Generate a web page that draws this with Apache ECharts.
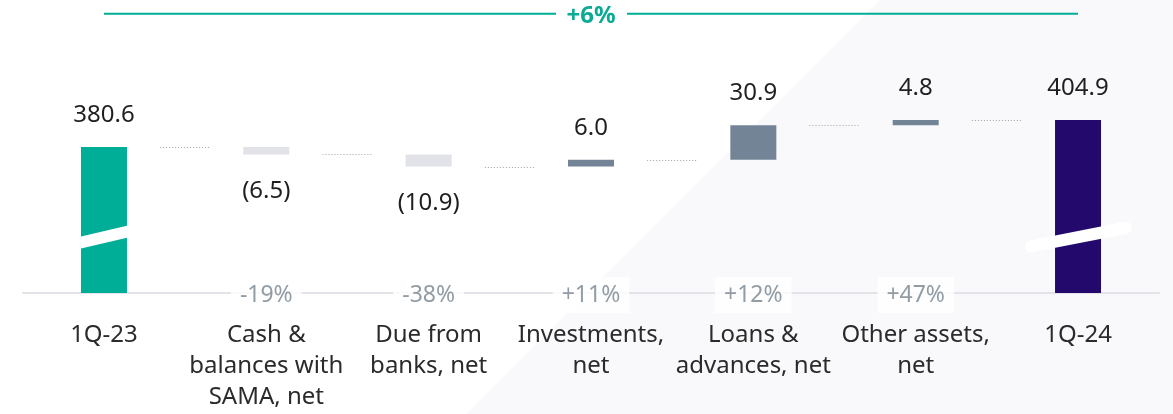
<!DOCTYPE html>
<html>
<head>
<meta charset="utf-8">
<script src="https://cdn.jsdelivr.net/npm/echarts@6/dist/echarts.min.js"></script>
<style>
    html, body { margin: 0; padding: 0; background: #fff; }
    #main { width: 1173px; height: 414px; }
</style>
</head>
<body>
<div id="main"></div>
<script>
let categories = ['1Q-23', 'Cash &\nbalances with\nSAMA, net', 'Due from\nbanks, net', 'Investments,\nnet', 'Loans &\nadvances, net', 'Other assets,\nnet', '1Q-24'];
let startTotal = 380.6;
let changes = [-6.5, -10.9, 6.0, 30.9, 4.8];
let endTotal = 404.9;
let changePct = ['', '-19%', '-38%', '+11%', '+12%', '+47%', ''];
let totalPct = '+6%';
let breakValue = 300;
let axisMin = 250;
let axisMax = 500;

let fontName = 'Noto Sans';
let teal = '#00ad97';
let purple = '#23096c';
let upColor = '#738497';
let downColor = '#e2e3e9';

// 瀑布图：透明底座 + 可见柱
let baseData = [0];
let barData = [{
    value: startTotal,
    itemStyle: { color: teal },
    label: { position: 'top', distance: 20, formatter: startTotal.toFixed(1) }
}];
let levels = [startTotal];
let level = startTotal;
changes.forEach(function (c) {
    let next = Math.round((level + c) * 10) / 10;
    baseData.push(Math.min(level, next));
    barData.push({
        value: Math.abs(c),
        itemStyle: { color: c < 0 ? downColor : upColor },
        label: {
            position: c < 0 ? 'bottom' : 'top',
            distance: c < 0 ? 25 : 20,
            formatter: c < 0 ? '(' + Math.abs(c).toFixed(1) + ')' : c.toFixed(1)
        }
    });
    level = next;
    levels.push(level);
});
baseData.push(0);
barData.push({
    value: endTotal,
    itemStyle: { color: purple },
    label: { position: 'top', distance: 20, formatter: endTotal.toFixed(1) }
});

let connectorData = levels.map(function (v, i) { return [i, v]; });
let pctData = [];
changePct.forEach(function (p, i) {
    if (p !== '') pctData.push([i, axisMin]);
});
let breakData = [[0, breakValue], [categories.length - 1, breakValue]];

let myChart = echarts.init(document.getElementById('main'));

let option = {
    animation: false,
    backgroundColor: '#fff',
    textStyle: { fontFamily: fontName },
    graphic: [{
        type: 'polygon',
        z: -10,
        silent: true,
        shape: { points: [[880, 0], [1173, 0], [1173, 414], [466, 414]] },
        style: { fill: '#f9f9fb' }
    }],
    grid: { left: 22.8, right: 13.8, top: 13.75, bottom: 121 },
    xAxis: {
        type: 'category',
        data: categories,
        axisLine: { lineStyle: { color: '#e3e3e9', width: 2 } },
        axisTick: { show: false },
        axisLabel: {
            color: '#2b2b2b',
            fontSize: 24,
            lineHeight: 31,
            margin: 27,
            interval: 0,
            fontFamily: fontName
        }
    },
    yAxis: {
        type: 'value',
        min: axisMin,
        max: axisMax,
        show: false,
        splitLine: { show: false }
    },
    series: [
        {
            type: 'bar',
            stack: 'wf',
            barWidth: 46,
            silent: true,
            itemStyle: { color: 'transparent' },
            data: baseData
        },
        {
            type: 'bar',
            stack: 'wf',
            barWidth: 46,
            label: {
                show: true,
                color: '#1f1f1f',
                fontSize: 24,
                fontFamily: fontName
            },
            data: barData
        },
        {
            // 断轴标记
            type: 'custom',
            z: 5,
            clip: false,
            data: breakData,
            renderItem: function (params, api) {
                let p = api.coord([api.value(0), api.value(1)]);
                if (params.dataIndex === 0) {
                    let hw = 23, dy = 5.3, t = 6;
                    return {
                        type: 'polygon',
                        shape: { points: [
                            [p[0] - hw, p[1] + dy - t], [p[0] + hw, p[1] - dy - t],
                            [p[0] + hw, p[1] - dy + t], [p[0] - hw, p[1] + dy + t]
                        ] },
                        style: { fill: '#fff' }
                    };
                }
                return {
                    type: 'line',
                    shape: { x1: p[0] - 47, y1: p[1] + 9.2, x2: p[0] + 48, y2: p[1] - 9.4 },
                    style: { stroke: '#fff', lineWidth: 12, lineCap: 'round' }
                };
            }
        },
        {
            // 连接虚线
            type: 'custom',
            z: 4,
            clip: false,
            data: connectorData,
            renderItem: function (params, api) {
                let p = api.coord([api.value(0), api.value(1)]);
                let band = api.size([1, 0])[0];
                let x = p[0] + band / 2;
                let y = Math.round(p[1]) + 0.5;
                return {
                    type: 'line',
                    shape: { x1: x - 25, y1: y, x2: x + 25, y2: y },
                    style: { stroke: '#9ea3ab', lineWidth: 1, lineDash: [1, 2] }
                };
            }
        },
        {
            // 顶部总增幅
            type: 'custom',
            z: 4,
            clip: false,
            data: [[0, axisMax]],
            renderItem: function (params, api) {
                let p0 = api.coord([0, axisMax]);
                let p1 = api.coord([categories.length - 1, axisMax]);
                let mid = (p0[0] + p1[0]) / 2;
                let y = p0[1];
                let line = { stroke: teal, lineWidth: 2 };
                return {
                    type: 'group',
                    children: [
                        { type: 'line', shape: { x1: p0[0], y1: y, x2: mid - 35, y2: y }, style: line },
                        { type: 'line', shape: { x1: mid + 36, y1: y, x2: p1[0], y2: y }, style: line },
                        {
                            type: 'text',
                            x: mid, y: y + 2,
                            style: {
                                text: totalPct,
                                fill: '#0aab94',
                                font: 'bold 24px "' + fontName + '"',
                                align: 'center',
                                verticalAlign: 'middle'
                            }
                        }
                    ]
                };
            }
        },
        {
            // 变动百分比
            type: 'scatter',
            symbolSize: 0,
            clip: false,
            z: 6,
            data: pctData,
            label: {
                show: true,
                position: 'inside',
                offset: [0, 2],
                color: '#75838f',
                fontSize: 23,
                fontFamily: fontName,
                backgroundColor: '#fff',
                padding: [7, 9, 6, 9],
                formatter: function (params) {
                    return changePct[params.value[0]];
                }
            }
        }
    ]
};

myChart.setOption(option);
</script>
</body>
</html>
